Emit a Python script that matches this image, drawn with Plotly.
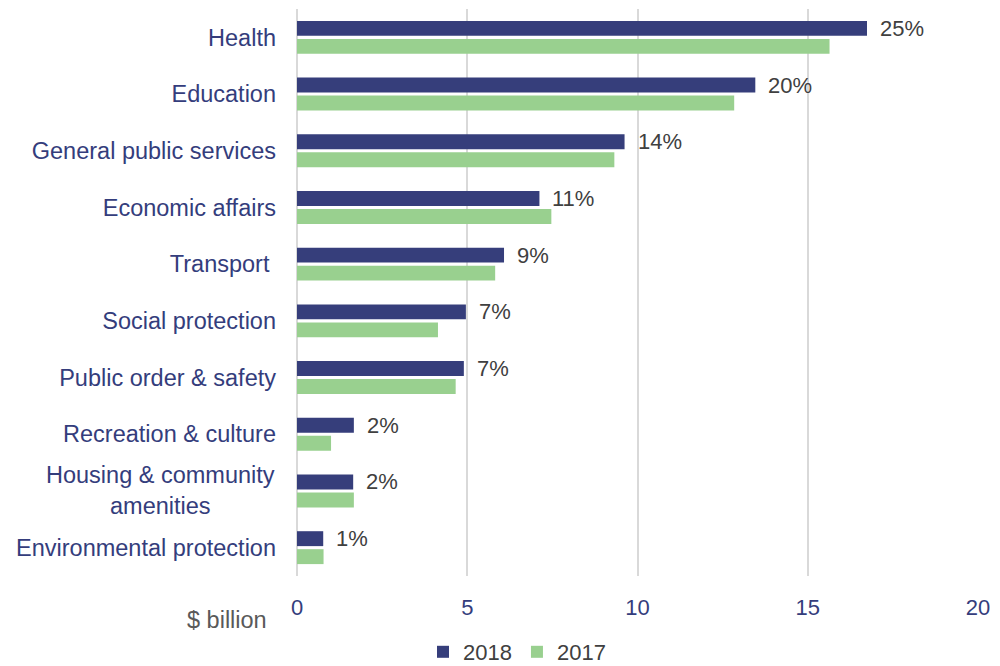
import plotly.graph_objects as go

# Spending by function, $ billion
categories = [
    "Health",
    "Education",
    "General public services",
    "Economic affairs",
    "Transport ",
    "Social protection",
    "Public order & safety",
    "Recreation & culture",
    "Housing & community amenities",
    "Environmental protection",
]
# Axis labels; the two-line one is drawn separately so it can be centred
tick_labels = [
    "Health",
    "Education",
    "General public services",
    "Economic affairs",
    "Transport ",
    "Social protection",
    "Public order & safety",
    "Recreation & culture",
    "",
    "Environmental protection",
]
wrapped_label = "Housing & community<br>amenities"
values_2018 = [16.74, 13.46, 9.62, 7.12, 6.08, 4.96, 4.90, 1.67, 1.65, 0.77]
values_2017 = [15.64, 12.84, 9.32, 7.47, 5.82, 4.14, 4.66, 1.00, 1.67, 0.78]
share_2018 = ["25%", "20%", "14%", "11%", "9%", "7%", "7%", "2%", "2%", "1%"]
x_ticks = [0, 5, 10, 15, 20]

NAVY = "#363e7b"
GREEN = "#99d08f"
TEXT_NAVY = "#343d7c"
GREY_TEXT = "#404040"
FONT = "Liberation Sans, Arial, sans-serif"

W, H = 1000, 666
ML, MR, MT, MB = 296.5, 22, 9, 90
PW, PH = W - ML - MR, H - MT - MB

fig = go.Figure()
fig.add_trace(go.Bar(
    y=categories, x=values_2018, name="2018", orientation="h",
    marker=dict(color=NAVY, line=dict(width=0)),
))
fig.add_trace(go.Bar(
    y=categories, x=values_2017, name="2017", orientation="h",
    marker=dict(color=GREEN, line=dict(width=0)),
))

# Share labels beside the 2018 bars
for cat, val, lab in zip(categories, values_2018, share_2018):
    fig.add_annotation(
        x=val, y=cat, xref="x", yref="y", text=lab, showarrow=False,
        xanchor="left", yanchor="middle", xshift=11, yshift=9,
        font=dict(family=FONT, size=22, color=GREY_TEXT),
    )

# Centred two-line category label
fig.add_annotation(
    x=0, y="Housing & community amenities", xref="paper", yref="y",
    text=wrapped_label, showarrow=False, align="center",
    xanchor="right", yanchor="middle", xshift=-20,
    font=dict(family=FONT, size=23.5, color=TEXT_NAVY),
)

# Unit label under the category labels
fig.add_annotation(
    xref="paper", yref="paper",
    x=(226 - ML) / PW, y=(H - MB - 620) / PH,
    text="$ billion", showarrow=False, xanchor="center", yanchor="middle",
    font=dict(family=FONT, size=23.5, color="#595959"),
)

fig.update_layout(
    width=W, height=H,
    margin=dict(l=ML, r=MR, t=MT, b=MB, autoexpand=False),
    paper_bgcolor="white", plot_bgcolor="white",
    barmode="group", bargap=0.366, bargroupgap=0.17,
    font=dict(family=FONT, size=22, color=TEXT_NAVY),
    showlegend=True,
    legend=dict(
        orientation="h", xref="container", yref="container",
        x=0.517, y=1 - 652 / H, xanchor="center", yanchor="middle",
        font=dict(family=FONT, size=22, color=GREY_TEXT),
        itemwidth=30, traceorder="normal", tracegroupgap=0,
    ),
    xaxis=dict(
        range=[0, 20], tickvals=x_ticks, ticktext=[str(t) for t in x_ticks],
        showgrid=True, gridcolor="#d9d9d9", gridwidth=2,
        zeroline=True, zerolinecolor="#d9d9d9", zerolinewidth=2,
        showline=False, ticks="", ticklabelstandoff=16,
        tickfont=dict(family=FONT, size=22, color=TEXT_NAVY),
        fixedrange=True,
    ),
    yaxis=dict(
        autorange="reversed", showgrid=False, zeroline=False, showline=False,
        tickmode="array", tickvals=categories, ticktext=tick_labels,
        ticks="", ticklabelstandoff=20,
        tickfont=dict(family=FONT, size=23.5, color=TEXT_NAVY),
        fixedrange=True,
    ),
)

fig.write_html("out.html")
